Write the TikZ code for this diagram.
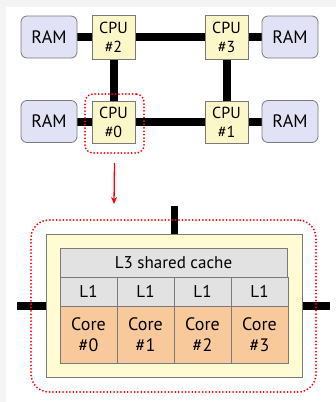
\documentclass[tikz,border=0pt]{standalone}
\usepackage{fontspec}
\setmainfont{PT Sans}
\usetikzlibrary{arrows.meta,backgrounds}
\definecolor{ramfill}{HTML}{E2E2F6}
\definecolor{cpufill}{HTML}{FCF7C8}
\definecolor{chipfill}{HTML}{FFFBD2}
\definecolor{cachefill}{HTML}{E2E2E2}
\definecolor{corefill}{HTML}{F8C99A}
\definecolor{edgegray}{HTML}{7A7A7A}
\definecolor{pagegray}{HTML}{F4F4F4}
\tikzset{
  ram/.style={draw=edgegray, line width=0.8pt, fill=ramfill, rounded corners=6pt,
    minimum width=56pt, minimum height=42pt, inner sep=0pt,
    font=\fontsize{18}{20}\selectfont},
  cpu/.style={draw=edgegray, line width=0.8pt, fill=cpufill,
    minimum width=43pt, minimum height=44pt, inner sep=0pt, align=center,
    font=\fontsize{16}{19}\selectfont},
  bus/.style={line width=8pt, black},
  redring/.style={draw=red, line width=2pt, dash pattern=on 0pt off 3.4pt, line cap=round},
  chip/.style={draw=edgegray, line width=0.8pt, fill=chipfill, minimum width=256pt,
    minimum height=143pt, inner sep=0pt},
  cachebox/.style={draw=edgegray, line width=0.8pt, fill=cachefill, inner sep=0pt,
    font=\fontsize{17}{19}\selectfont},
  corebox/.style={draw=edgegray, line width=0.8pt, fill=corefill, inner sep=0pt,
    minimum width=57pt, minimum height=57pt, align=center,
    font=\fontsize{18}{21}\selectfont},
}
\begin{document}
\begin{tikzpicture}[x=1pt,y=-1pt]
\useasboundingbox (0,0) rectangle (336,402);
\fill[pagegray] (0,0) rectangle (336,7);
\fill[pagegray] (0,0) rectangle (6,402);
% top level nodes
\node[ram] (ramTL) at (49,37) {RAM};
\node[cpu] (cpu2) at (113.5,37) {CPU\\\#2};
\node[cpu] (cpu3) at (226.5,37) {CPU\\\#3};
\node[ram] (ramTR) at (290,37) {RAM};
\node[ram] (ramBL) at (49,121.5) {RAM};
\node[cpu, minimum height=42pt] (cpu0) at (113.5,122) {CPU\\\#0};
\node[cpu, minimum height=42pt] (cpu1) at (226.5,122) {CPU\\\#1};
\node[ram] (ramBR) at (290,121.5) {RAM};
\begin{scope}[on background layer]
\draw[bus] (ramTL.east) -- (cpu2.west);
\draw[bus] (cpu2.east) -- (cpu3.west);
\draw[bus] (cpu3.east) -- (ramTR.west);
\draw[bus] (ramBL.east |- cpu0.west) -- (cpu0.west);
\draw[bus] (cpu0.east) -- (cpu1.west);
\draw[bus] (cpu1.east) -- (ramBR.west |- cpu1.east);
\draw[bus] (cpu2.south) -- (cpu0.north);
\draw[bus] (cpu3.south) -- (cpu1.north);
\end{scope}
\node[redring, rounded corners=8pt, minimum width=59pt, minimum height=59pt] (ring0) at (114.5,123.5) {};
% arrow
\coordinate (arrowEnd) at (114,204);
\draw[red, line width=1.3pt, -{Stealth[length=7pt,width=6pt]}] (ring0.south) ++(0,9) coordinate (arrowStart) -- (arrowEnd);
% chip
\node[chip] (chip) at (174,305.5) {};
\coordinate (stubTop) at (174.5,206);
\coordinate (stubLeft) at (17,306);
\coordinate (stubRight) at (330,306);
\begin{scope}[on background layer]
\draw[line width=7.5pt, black] (chip.north -| stubTop) -- (stubTop);
\draw[line width=7.5pt, black] (chip.west |- stubLeft) -- (stubLeft);
\draw[line width=7.5pt, black] (chip.east |- stubRight) -- (stubRight);
\end{scope}
\node[cachebox, minimum width=227pt, minimum height=29pt] (l3) at (173.5,262.5) {L3 shared cache};
\foreach \i in {0,1,2,3}{
  \node[cachebox, minimum width=57pt, minimum height=29pt] (l1\i) at ({60+28.5+57*\i},291.5) {L1};
  \node[corebox] (core\i) at ({60+28.5+57*\i},334.5) {Core\\\#\i};
}
\node[redring, rounded corners=18pt, minimum width=285pt, minimum height=172pt] (ringChip) at (173.5,306) {};
\end{tikzpicture}
\end{document}
